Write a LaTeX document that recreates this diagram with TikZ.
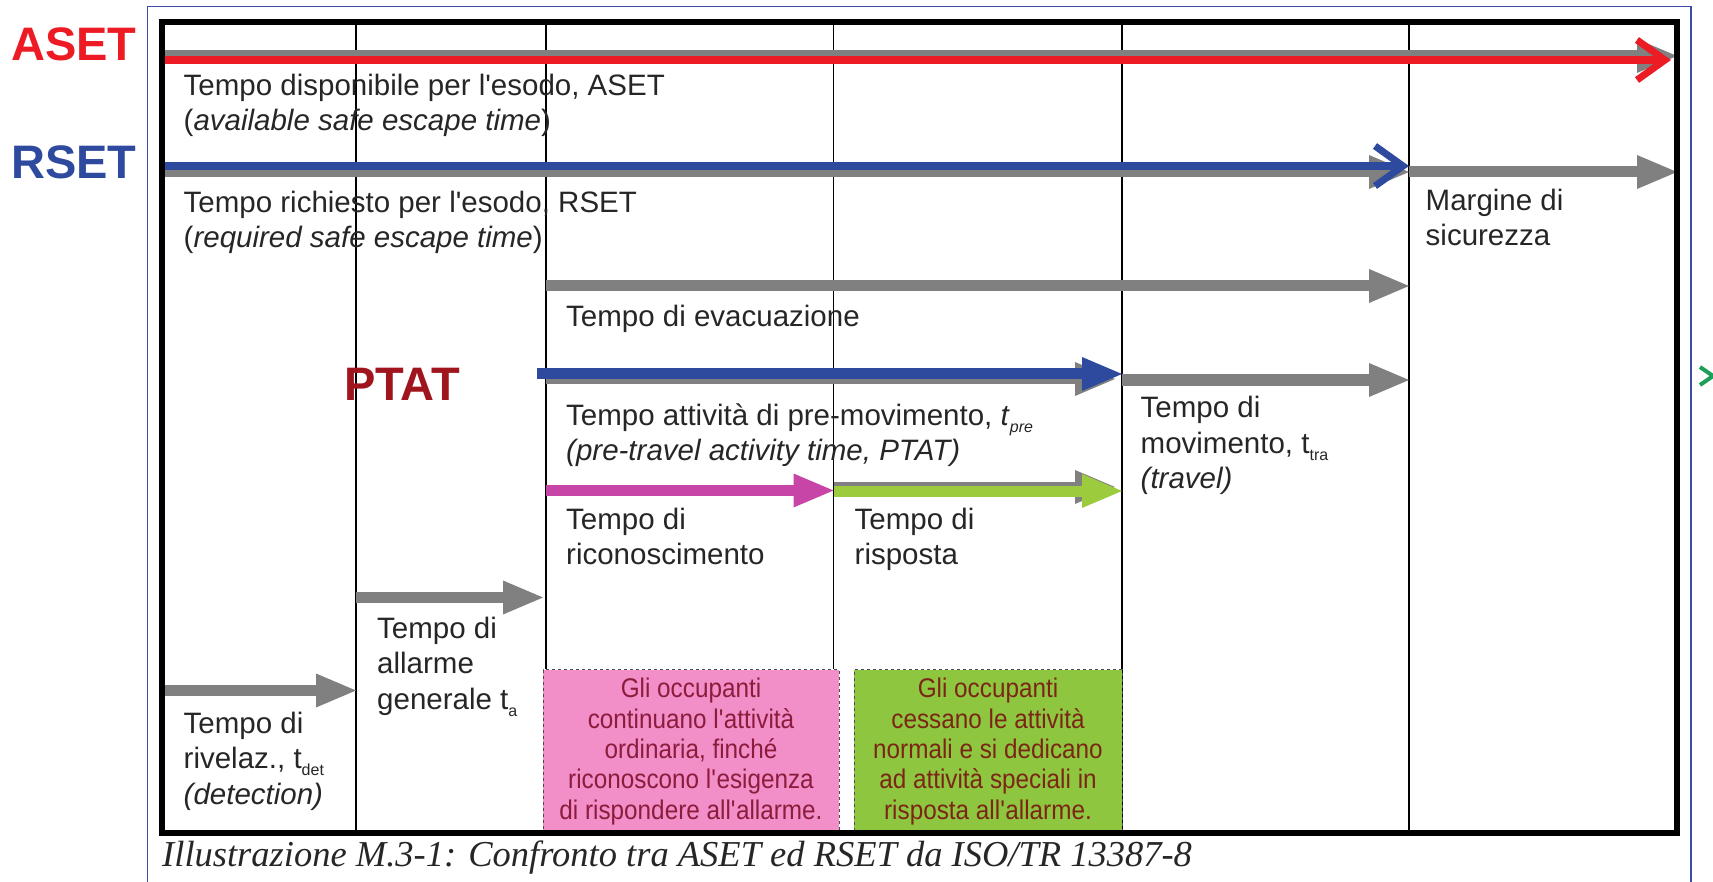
\documentclass[tikz,border=0pt]{standalone}
\usepackage{fontspec}
\setmainfont{Liberation Sans}
\newfontfamily\capfont{Liberation Serif}
\newfontfamily\narrowfont[FakeStretch=0.9]{Liberation Sans}
\usetikzlibrary{arrows.meta}

\definecolor{asetred}{HTML}{ED1C24}
\definecolor{rsetblue}{HTML}{2E4A9F}
\definecolor{ptatred}{HTML}{A0141E}
\definecolor{timegray}{HTML}{808080}
\definecolor{recogpink}{HTML}{C845A8}
\definecolor{respgreen}{HTML}{9CCB3E}
\definecolor{pinkfill}{HTML}{F28EC8}
\definecolor{greenfill}{HTML}{8EC640}
\definecolor{pinktext}{HTML}{8B1C3C}
\definecolor{greentext}{HTML}{7B2615}
\definecolor{pageblue}{HTML}{3B4BA6}
\definecolor{strayGreen}{HTML}{1AA058}
\definecolor{textgray}{HTML}{262626}

\newcommand\ap{\textquotesingle}
\newcommand\lowsub[1]{\raisebox{-7pt}{\fontsize{16}{16}\selectfont #1}}

\tikzset{
  timebar/.style={line width=11pt,-{Triangle[length=40pt,width=34pt,line width=0pt]}},
  barbbar/.style={line width=8pt,-{Straight Barb[length=28pt,width=40pt,line width=7pt]}},
  bigtag/.style={inner sep=0pt,font=\fontsize{47}{50}\selectfont\bfseries},
  desc/.style={anchor=north west,inner sep=0pt,align=left,text=textgray,
    font=\fontsize{29.5}{35.5}\selectfont},
  notebox/.style={draw=black!70,dashed,line width=1pt,minimum height=164pt,
    align=center,font=\narrowfont\fontsize{27}{30.4}\selectfont}
}

\begin{document}
\begin{tikzpicture}[x=1pt,y=-1pt]
  \useasboundingbox (0,0) rectangle (1713,882);
  % page frame
  \draw[pageblue,line width=1.5pt] (147.5,882) -- (147.5,6.5) -- (1691,6.5) -- (1691,882);
  % column lines
  \foreach \cx/\cy in {356/832,546/669,833.5/669,1122/832,1409/832}
    \draw[line width=1.5pt] (\cx,22) -- (\cx,\cy);
  % notes under the columns
  \node (recnote) [notebox,fill=pinkfill,text=pinktext,minimum width=296pt] at (691,751.5)
    {Gli occupanti\\continuano l\ap attività\\ordinaria, finché\\riconoscono l\ap esigenza\\di rispondere all\ap allarme.};
  \node (respnote) [notebox,fill=greenfill,text=greentext,minimum width=268pt] at (988,751.5)
    {Gli occupanti\\cessano le attività\\normali e si dedicano\\ad attività speciali in\\risposta all\ap allarme.};
  % tags
  \node (aset) [bigtag,text=asetred] at (74,44) {ASET};
  \node (rset) [bigtag,text=rsetblue] at (74,162) {RSET};
  \node (ptat) [bigtag,text=ptatred] at (402,384) {PTAT};
  % time bars
  \draw[timebar,timegray] (162,56) -- (1677,56);
  \draw[barbbar,asetred] (162,60) -- (1671,60);
  \draw[timebar,timegray] (162,172) -- (1409,172);
  \draw[barbbar,rsetblue] (162,166) -- (1409,166);
  \draw[timebar,timegray] (1409,172) -- (1677,172);
  \draw[timebar,timegray] (546,286) -- (1409,286);
  \draw[timebar,timegray] (546,379) -- (1115,379);
  \draw[timebar,rsetblue] (537,374) -- (1122,374);
  \draw[timebar,timegray] (1122,380) -- (1409,380);
  \draw[timebar,recogpink] (546,490.5) -- (833.5,490.5);
  \draw[timebar,timegray] (833.5,487) -- (1115,487);
  \draw[timebar,respgreen] (833.5,491) -- (1122,491);
  \draw[timebar,timegray] (356,597.5) -- (543,597.5);
  \draw[timebar,timegray] (162,690.5) -- (356,690.5);
  % descriptions
  \node (asetdesc) [desc] at (183.5,73.5)
    {Tempo disponibile per l\ap esodo, ASET\\(\textit{available safe escape time})};
  \node (rsetdesc) [desc] at (183.5,190.5)
    {Tempo richiesto per l\ap esodo, RSET\\(\textit{required safe escape time})};
  \node (margin) [desc] at (1425.5,188.5) {Margine di\\sicurezza};
  \node (evac) [desc] at (566,305) {Tempo di evacuazione};
  \node (pre) [desc] at (566,403.5)
    {Tempo attività di pre-movimento, \textit{t}\lowsub{\textit{pre}}\\\textit{(pre-travel activity time, PTAT)}};
  \node (travel) [desc] at (1140.5,396)
    {Tempo di\\movimento, t\lowsub{tra}\\\textit{(travel)}};
  \node (recog) [desc] at (566,507.5) {Tempo di\\riconoscimento};
  \node (resp) [desc] at (854.5,507.5) {Tempo di\\risposta};
  \node (alarm) [desc] at (377,616.5) {Tempo di\\allarme\\generale t\lowsub{a}};
  \node (detect) [desc] at (183.5,711.5)
    {Tempo di\\rivelaz., t\lowsub{det}\\\textit{(detection)}};
  % outer frame and caption
  \draw[line width=6pt] (162,22) rectangle (1677,832.5);
  \node (caption) [anchor=west,inner sep=0pt,text=textgray,font=\capfont\itshape\fontsize{36.5}{40}\selectfont]
    at (162,858) {Illustrazione M.3-1: Confronto tra ASET ed RSET da ISO/TR 13387-8};
  \draw[strayGreen,line width=4pt] (1700,367) -- (1713,376) -- (1700,385);
\end{tikzpicture}
\end{document}
